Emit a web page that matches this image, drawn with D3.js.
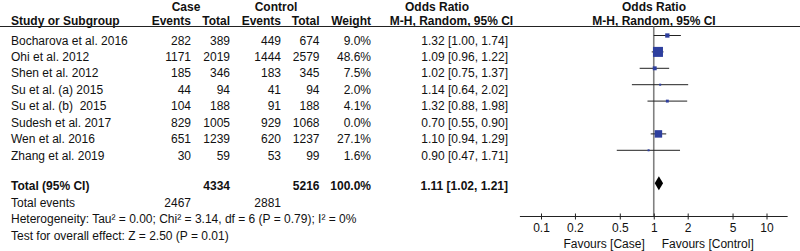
<!DOCTYPE html>
<html>
<head>
<meta charset="utf-8">
<script src="https://cdn.jsdelivr.net/npm/d3@7"></script>
<style>
	body {margin:0; background:#fff;}
	svg text {font-family:"Liberation Sans", Arial, sans-serif; font-size:12px; fill:#111; white-space:pre;}
	.b {font-weight:bold;}
</style>
</head>
<body>
<div class="c_forest"></div>
<script>
/*DATA
------------------------------------------------------
------------------------------------------------------
*/

const studies = ["Bocharova et al. 2016", "Ohi et al. 2012", "Shen et al. 2012", "Su et al. (a) 2015",
	"Su et al. (b)  2015", "Sudesh et al. 2017", "Wen et al. 2016", "Zhang et al. 2019"];
const caseEvents = [282, 1171, 185, 44, 104, 829, 651, 30];
const caseTotal = [389, 2019, 346, 94, 188, 1005, 1239, 59];
const ctrlEvents = [449, 1444, 183, 41, 91, 929, 620, 53];
const ctrlTotal = [674, 2579, 345, 94, 188, 1068, 1237, 99];
const weights = [9.0, 48.6, 7.5, 2.0, 4.1, 0.0, 27.1, 1.6];
const oddsRatio = [1.32, 1.09, 1.02, 1.14, 1.32, 0.70, 1.10, 0.90];
const ciLow = [1.00, 0.96, 0.75, 0.64, 0.88, 0.55, 0.94, 0.47];
const ciHigh = [1.74, 1.22, 1.37, 2.02, 1.98, 0.90, 1.29, 1.71];

const pooled = {or:1.11, low:1.02, high:1.21};
const totals = {caseTotal:4334, ctrlTotal:5216, weight:"100.0%", caseEvents:2467, ctrlEvents:2881};
const tickValues = [0.1, 0.2, 0.5, 1, 2, 5, 10];
const axisExtent = [0.065, 15.4];

const heterogeneity = "Heterogeneity: Tau\u00b2 = 0.00; Chi\u00b2 = 3.14, df = 6 (P = 0.79); I\u00b2 = 0%";
const overallTest = "Test for overall effect: Z = 2.50 (P = 0.01)";


/*INITIATE
------------------------------------------------------
------------------------------------------------------
*/

let width = 800;
let height = 251;

let svg = d3.select(".c_forest")
	.append("svg")
	.attr("width", width)
	.attr("height", height);

const fmt = d3.format(".2f");
const rowY = i => 44.5 + i * 16.45; //baseline des lignes d'études
const markY = i => 35.5 + i * 16.4; //centre des marqueurs

// colonnes (bord droit)
const col = {name:11, caseEv:191, caseTot:230, ctrlEv:281, ctrlTot:319.5, weight:371, or:508};

const x = d3.scaleLog()
	.domain([0.1, 10])
	.range([541, 766.5]);

const boxSize = d3.scaleSqrt()
	.domain([0, 48.6])
	.range([0, 10]);


/*HEADER
------------------------------------------------------
------------------------------------------------------
*/

function txt(g, xPos, yPos, s, anchor, cls) {
	return g.append("text")
		.attr("x", xPos)
		.attr("y", yPos)
		.attr("text-anchor", anchor || "start")
		.attr("class", cls || null)
		.text(s);
}

let head = svg.append("g");
txt(head, 186, 10.5, "Case", "middle", "b");
txt(head, 276, 10.5, "Control", "middle", "b");
txt(head, 437, 10.5, "Odds Ratio", "middle", "b");
txt(head, 654, 10.5, "Odds Ratio", "middle", "b");

txt(head, col.name, 24.5, "Study or Subgroup", "start", "b");
txt(head, col.caseEv, 24.5, "Events", "end", "b");
txt(head, col.caseTot, 24.5, "Total", "end", "b");
txt(head, col.ctrlEv, 24.5, "Events", "end", "b");
txt(head, col.ctrlTot, 24.5, "Total", "end", "b");
txt(head, col.weight, 24.5, "Weight", "end", "b");
txt(head, 451.5, 24.5, "M-H, Random, 95% CI", "middle", "b");
txt(head, 654, 24.5, "M-H, Random, 95% CI", "middle", "b");

head.append("line")
	.attr("x1", 0).attr("x2", width)
	.attr("y1", 26.5).attr("y2", 26.5)
	.attr("stroke", "#222")
	.attr("stroke-width", 1);


/*ROWS
------------------------------------------------------
------------------------------------------------------
*/

let rows = svg.append("g")
	.selectAll("g")
	.data(studies)
	.enter()
	.append("g");

rows.each(function(d, i) {
	let g = d3.select(this);
	let y = rowY(i);
	txt(g, col.name, y, d);
	txt(g, col.caseEv, y, caseEvents[i], "end");
	txt(g, col.caseTot, y, caseTotal[i], "end");
	txt(g, col.ctrlEv, y, ctrlEvents[i], "end");
	txt(g, col.ctrlTot, y, ctrlTotal[i], "end");
	txt(g, col.weight, y, weights[i].toFixed(1) + "%", "end");
	txt(g, col.or, y, fmt(oddsRatio[i]) + " [" + fmt(ciLow[i]) + ", " + fmt(ciHigh[i]) + "]", "end");
});

let tot = svg.append("g");
txt(tot, col.name, 190, "Total (95% CI)", "start", "b");
txt(tot, col.caseTot, 190, totals.caseTotal, "end", "b");
txt(tot, col.ctrlTot, 190, totals.ctrlTotal, "end", "b");
txt(tot, col.weight, 190, totals.weight, "end", "b");
txt(tot, col.or, 190, fmt(pooled.or) + " [" + fmt(pooled.low) + ", " + fmt(pooled.high) + "]", "end", "b");
txt(tot, col.name, 206.7, "Total events");
txt(tot, col.caseEv, 206.7, totals.caseEvents, "end");
txt(tot, col.ctrlEv, 206.7, totals.ctrlEvents, "end");
txt(tot, col.name, 223.3, heterogeneity);
txt(tot, col.name, 240, overallTest);


/*FOREST
------------------------------------------------------
------------------------------------------------------
*/

let axisY = 216.5;
let forest = svg.append("g");

forest.append("line")
	.attr("x1", x(1)).attr("x2", x(1))
	.attr("y1", 26.5).attr("y2", axisY)
	.attr("stroke", "#808080")
	.attr("stroke-width", 1.6);

// études avec poids > 0
let idx = d3.range(studies.length).filter(i => weights[i] > 0);

forest.selectAll("line.ci")
	.data(idx)
	.enter()
	.append("line")
	.attr("class", "ci")
	.attr("x1", i => x(ciLow[i]))
	.attr("x2", i => x(ciHigh[i]))
	.attr("y1", i => markY(i))
	.attr("y2", i => markY(i))
	.attr("stroke", "#222")
	.attr("stroke-width", 1);

forest.selectAll("rect.box")
	.data(idx)
	.enter()
	.append("rect")
	.attr("class", "box")
	.attr("x", i => x(oddsRatio[i]) - Math.max(2, boxSize(weights[i])) / 2)
	.attr("y", i => markY(i) - Math.max(2, boxSize(weights[i])) / 2)
	.attr("width", i => Math.max(2, boxSize(weights[i])))
	.attr("height", i => Math.max(2, boxSize(weights[i])))
	.attr("fill", "#2e3f9e");

let dy = 183.3;
forest.append("path")
	.attr("d", "M" + x(pooled.low) + "," + dy +
		"L" + x(pooled.or) + "," + (dy - 7) +
		"L" + x(pooled.high) + "," + dy +
		"L" + x(pooled.or) + "," + (dy + 7) + "Z")
	.attr("fill", "#000");


/*AXIS
------------------------------------------------------
------------------------------------------------------
*/

let gAxis = forest.append("g")
	.attr("transform", "translate(0," + axisY + ")")
	.call(d3.axisBottom(x)
		.tickValues(tickValues)
		.tickFormat(d3.format("~g"))
		.tickSizeInner(3)
		.tickSizeOuter(0)
		.tickPadding(4));

gAxis.select(".domain").remove();
gAxis.append("line")
	.attr("x1", x(axisExtent[0])).attr("x2", x(axisExtent[1]))
	.attr("stroke", "#222");
gAxis.selectAll(".tick line")
	.attr("y1", -3)
	.attr("stroke", "#222");
gAxis.selectAll(".tick text")
	.style("font-family", "\"Liberation Sans\", Arial, sans-serif")
	.style("font-size", "12px")
	.attr("fill", "#111");

txt(forest, x(1) - 9, 247.5, "Favours [Case]", "end");
txt(forest, x(1) + 8, 247.5, "Favours [Control]", "start");
</script>
</body>
</html>
